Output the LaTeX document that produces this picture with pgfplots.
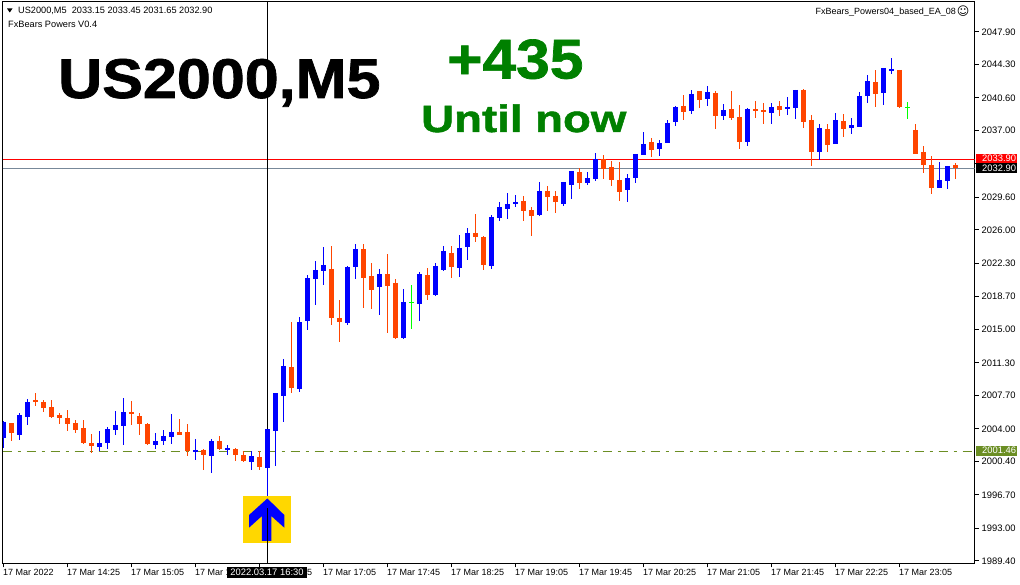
\documentclass[border=0pt]{standalone}
\usepackage{fontspec}
\setmainfont{Liberation Sans}
\newfontfamily\symfont{DejaVu Sans}
\newfontfamily\heavyfont[FakeBold=1.2]{Liberation Sans Bold}
\usepackage{graphicx}
\usepackage{pgfplots}
\usepackage{pgfplotstable}
\pgfplotsset{compat=1.18}
\definecolor{candleblue}{RGB}{0,0,255}
\definecolor{candleorange}{RGB}{255,69,0}
\definecolor{candlegreen}{RGB}{0,255,0}
\definecolor{linegray}{RGB}{119,136,153}
\definecolor{lineolive}{RGB}{107,142,35}
\definecolor{boxgold}{RGB}{255,215,0}
\definecolor{textgreen}{RGB}{0,128,0}
\pgfplotstableread{
i h t b l
0 2004.88 2004.80 2002.96 2001.93
2 2005.72 2005.54 2003.33 2002.77
3 2007.27 2006.98 2005.35 2004.43
12 2003.77 2002.44 2002.00 2001.56
13 2004.21 2003.99 2002.44 2001.78
14 2005.98 2004.43 2003.88 2003.33
15 2007.42 2005.87 2004.32 2002.22
19 2003.55 2002.66 2002.22 2001.78
20 2003.88 2003.22 2002.66 2002.22
21 2005.65 2003.66 2003.11 2002.33
24 2002.88 2001.67 2001.45 2000.56
26 2002.88 2002.66 2001.00 1999.12
28 2002.22 2001.89 2001.67 2001.11
31 2001.56 2001.00 2000.34 1999.46
33 2003.99 2003.99 1999.67 1996.31
34 2007.97 2007.97 2003.77 1999.90
35 2011.73 2010.96 2007.64 2004.76
37 2016.38 2015.82 2008.41 2008.08
38 2021.02 2020.69 2015.93 2014.94
39 2022.57 2021.58 2020.58 2017.70
40 2024.12 2022.13 2021.46 2019.92
43 2022.02 2021.91 2015.71 2015.49
44 2024.45 2023.90 2021.91 2020.58
47 2021.69 2021.13 2019.70 2016.60
50 2019.47 2018.04 2014.05 2013.94
52 2021.35 2021.13 2017.81 2015.93
54 2022.35 2022.02 2018.81 2018.70
55 2024.23 2023.68 2021.58 2021.50
57 2025.45 2024.01 2021.80 2020.80
58 2026.22 2025.67 2024.12 2022.68
61 2027.66 2027.44 2022.02 2021.69
62 2029.10 2028.54 2027.33 2027.00
63 2030.09 2028.87 2028.32 2027.22
64 2029.87 2029.10 2028.87 2028.54
67 2031.31 2030.31 2027.66 2027.55
70 2031.31 2031.31 2028.87 2028.65
71 2032.53 2032.53 2030.98 2029.43
73 2032.41 2031.75 2031.20 2030.98
74 2034.52 2033.85 2031.64 2031.42
78 2032.19 2031.75 2030.42 2029.10
79 2034.41 2034.41 2031.75 2031.20
80 2036.84 2035.51 2034.29 2034.29
82 2035.95 2035.62 2034.96 2034.18
83 2038.17 2037.84 2035.62 2035.60
84 2039.72 2039.61 2037.95 2037.50
86 2041.49 2041.04 2039.16 2038.83
88 2041.93 2041.26 2040.49 2039.72
90 2039.94 2039.27 2038.61 2038.17
93 2039.49 2039.38 2035.73 2035.29
96 2040.05 2039.61 2038.94 2037.72
98 2040.71 2039.61 2039.38 2038.72
99 2041.49 2041.49 2039.49 2038.28
102 2037.72 2037.28 2034.63 2033.74
104 2038.94 2038.17 2035.51 2035.50
106 2038.39 2037.61 2037.28 2036.62
107 2041.26 2040.82 2037.39 2037.38
108 2043.14 2042.48 2040.82 2040.05
110 2043.92 2043.92 2041.15 2039.83
111 2045.03 2043.81 2043.59 2043.26
117 2033.52 2031.53 2030.64 2030.60
118 2033.08 2033.08 2031.42 2030.53
}\blueT
\pgfplotstableread{
i h t b l
1 2004.65 2004.65 2003.58 2002.66
4 2007.93 2007.20 2007.01 2006.53
5 2007.20 2006.98 2006.31 2005.87
6 2007.20 2006.42 2005.32 2005.21
7 2005.76 2005.54 2005.21 2004.54
8 2006.09 2005.21 2004.54 2003.77
9 2004.99 2004.65 2003.88 2003.55
10 2004.99 2004.10 2002.44 2002.33
11 2003.44 2002.44 2002.11 2001.34
16 2007.09 2005.87 2005.65 2004.43
17 2005.76 2005.43 2004.54 2003.33
18 2004.65 2004.54 2002.33 2002.22
22 2005.10 2003.66 2003.33 2003.30
23 2004.54 2003.66 2001.56 2001.00
25 2001.78 2001.67 2001.11 1999.46
27 2003.22 2002.66 2001.78 2001.67
29 2001.89 2001.78 2001.11 2000.45
30 2001.56 2001.11 2000.45 2000.34
32 2001.56 2000.89 1999.79 1999.46
36 2015.82 2010.85 2008.52 2007.97
41 2024.23 2021.69 2016.27 2015.49
42 2018.26 2016.27 2015.82 2013.61
45 2024.45 2023.90 2020.69 2017.37
46 2022.35 2020.91 2019.36 2017.26
48 2023.35 2021.13 2019.81 2014.61
49 2020.58 2020.14 2014.05 2013.94
53 2021.80 2021.02 2018.81 2018.26
56 2024.23 2023.46 2021.91 2020.69
59 2027.77 2025.67 2025.23 2024.67
60 2025.34 2025.23 2022.13 2021.57
65 2029.76 2029.21 2028.10 2027.00
66 2028.54 2028.21 2027.55 2025.34
68 2030.87 2030.31 2029.65 2028.10
69 2030.31 2029.76 2029.10 2027.88
72 2032.86 2032.41 2031.20 2030.53
75 2034.29 2033.85 2032.75 2031.64
76 2033.63 2032.97 2031.53 2030.87
77 2033.52 2031.53 2030.20 2029.21
81 2036.18 2035.73 2034.85 2034.07
85 2040.93 2039.72 2039.05 2038.17
87 2041.37 2041.37 2040.38 2039.49
89 2041.37 2041.15 2038.61 2037.17
91 2041.37 2039.38 2038.39 2038.17
92 2039.83 2038.50 2035.73 2034.96
94 2040.27 2039.38 2039.16 2038.39
95 2040.05 2039.27 2039.05 2037.72
97 2040.27 2039.72 2039.27 2038.61
100 2041.60 2041.49 2037.95 2037.28
101 2038.72 2038.17 2034.63 2033.08
103 2037.72 2037.17 2035.40 2034.63
105 2038.83 2038.06 2037.17 2036.29
109 2043.70 2042.37 2041.04 2039.61
112 2043.70 2043.70 2039.61 2039.49
114 2037.72 2037.06 2034.41 2034.40
115 2035.29 2034.63 2033.19 2032.30
116 2034.18 2033.19 2030.64 2029.98
119 2033.45 2033.15 2032.90 2031.65
}\orangeT
\pgfplotstableread{
i h t b l
51 2019.92 2018.04 2017.93 2015.05
113 2040.16 2039.61 2039.50 2038.28
}\greenT
\newcommand{\candles}[2]{%
  \addplot[draw=none, no markers, forget plot,
    error bars/.cd, y dir=both, y explicit, error mark=none,
    error bar style={draw=#2, line width=1.3pt, solid}]
    table[x=i, y=t, y error plus expr=\thisrow{h}-\thisrow{t}, y error minus expr=\thisrow{t}-\thisrow{l}] {#1};
  \addplot[draw=none, no markers, forget plot,
    error bars/.cd, y dir=minus, y explicit, error mark=none,
    error bar style={draw=#2, line width=5pt, solid}]
    table[x=i, y=t, y error minus expr=\thisrow{t}-\thisrow{b}] {#1};
}
\begin{document}
\begin{tikzpicture}[x=1pt,y=1pt]
\fill[white] (0,0) rectangle (1020,584);
\useasboundingbox (0,0) rectangle (1020,584);
\begin{axis}[
  at={(2.5pt,20.7pt)}, anchor=south west, scale only axis,
  width=972pt, height=561.8pt,
  xmin=-0.125, xmax=121.375, ymin=1989.14, ymax=2051.27,
  axis line style={black, line width=1pt},
  tick style={black, line width=1pt},
  tick align=outside, major tick length=4pt,
  ytick pos=right, yticklabel pos=right, xtick pos=bottom,
  ytick={2047.9,2044.3,2040.6,2037,2033.4,2029.6,2026,2022.3,2018.7,2015,2011.3,2007.7,2004,2000.4,1996.7,1993,1989.4},
  yticklabels={2047.90,2044.30,2040.60,2037.00,{},2029.60,2026.00,2022.30,2018.70,2015.00,2011.30,2007.70,2004.00,2000.40,1996.70,1993.00,1989.40},
  xtick={0,8,...,112},
  xticklabels={17 Mar 2022,17 Mar 14:25,17 Mar 15:05,17 Mar 15:45,17 Mar 16:25,17 Mar 17:05,17 Mar 17:45,17 Mar 18:25,17 Mar 19:05,17 Mar 19:45,17 Mar 20:25,17 Mar 21:05,17 Mar 21:45,17 Mar 22:25,17 Mar 23:05},
  tick label style={inner sep=0pt},
  yticklabel style={font=\fontsize{9.4}{10}\selectfont, anchor=west, xshift=3pt},
  xticklabel style={font=\fontsize{9}{10}\selectfont, anchor=north west, yshift=-1.5pt, xshift=-0.5pt},
  clip=true,
]
\addplot[draw=red, line width=1.1pt, forget plot] coordinates {(-0.125,2033.82)(121.375,2033.82)};
\addplot[draw=linegray, line width=1.1pt, forget plot] coordinates {(-0.125,2032.83)(121.375,2032.83)};
\addplot[draw=lineolive, line width=1.1pt, dash pattern=on 9pt off 6pt on 3pt off 6pt, forget plot] coordinates {(-0.125,2001.50)(121.375,2001.50)};
\addplot[draw=black, line width=1pt, forget plot] coordinates {(33,1989.14)(33,2051.27)};
\candles{\blueT}{candleblue}
\candles{\orangeT}{candleorange}
\candles{\greenT}{candlegreen}
\addplot[fill=boxgold, draw=none, forget plot] coordinates {(29.94,1996.58)(35.94,1996.58)(35.94,1991.42)(29.94,1991.42)} -- cycle;
\addplot[fill=candleblue, draw=none, forget plot] coordinates {(32.98,1996.31)(30.69,1994.48)(30.69,1993.08)(32.31,1994.37)(32.31,1991.61)(33.48,1991.61)(33.48,1994.37)(35.10,1993.08)(35.10,1994.48)} -- cycle;
\addplot[draw=black, line width=1pt, forget plot] coordinates {(33,1989.14)(33,1995.26)};
\end{axis}
% big captions
\node[anchor=base west, inner sep=0pt, black] at (58,486) {\scalebox{1.09}[1]{\fontsize{56}{56}\selectfont\heavyfont US2000,M5}};
\node[anchor=base west, inner sep=0pt, textgreen] at (447,505.5) {\scalebox{1.08}[1]{\fontsize{56}{56}\selectfont\heavyfont +435}};
\node[anchor=base west, inner sep=0pt, textgreen] at (421,452) {\scalebox{1.2}[1]{\fontsize{38}{38}\selectfont\heavyfont Until now}};
% chart header
\fill[black] (7,575.5) -- (12.5,575.5) -- (9.75,571.5) -- cycle;
\node[anchor=base west, inner sep=0pt, font=\fontsize{9.2}{10}\selectfont] at (18,570) {US2000,M5\hspace{5pt}2033.15 2033.45 2031.65 2032.90};
\node[anchor=base west, inner sep=0pt, font=\fontsize{9.2}{10}\selectfont] at (8,556) {FxBears Powers V0.4};
\node[anchor=base east, inner sep=0pt, font=\fontsize{9}{10}\selectfont] at (956,569) {FxBears\_Powers04\_based\_EA\_08};
\node[anchor=center, inner sep=0pt, font=\symfont\fontsize{12}{12}\selectfont] at (963,573) {☺};
% price tags
\fill[red] (976,430) rectangle (1016.7,421);
\fill[black] (976,421) rectangle (1016.7,411.3);
\fill[lineolive] (976,138.3) rectangle (1016.7,128.3);
\node[anchor=west, inner sep=0pt, white, font=\fontsize{9.4}{10}\selectfont] at (982,425.5) {2033.90};
\node[anchor=west, inner sep=0pt, white, font=\fontsize{9.4}{10}\selectfont] at (982,416.2) {2032.90};
\node[anchor=west, inner sep=0pt, white, font=\fontsize{9.4}{10}\selectfont] at (982,133.3) {2001.46};
% cursor time tag
\fill[black] (227.3,16.7) rectangle (306.7,6.3);
\node[anchor=center, inner sep=0pt, white, font=\fontsize{9.4}{10}\selectfont] at (267,11.3) {2022.03.17 16:30};
\end{tikzpicture}
\end{document}
